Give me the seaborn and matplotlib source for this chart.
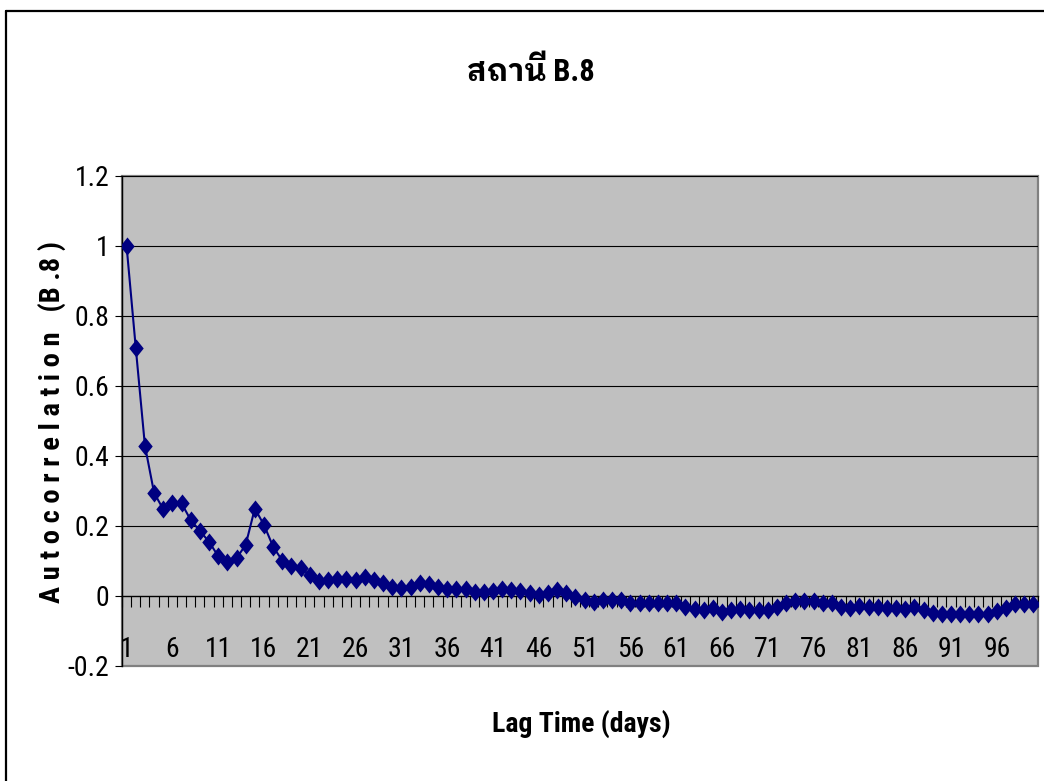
import numpy as np
import pandas as pd
import matplotlib
matplotlib.use("Agg")
import matplotlib.pyplot as plt
import seaborn as sns
from matplotlib import font_manager as fm
from matplotlib.ft2font import FT2Font
from matplotlib.patches import Rectangle
from matplotlib.lines import Line2D

# ---------------- data ----------------
title_text = "สถานี B.8"
xlabel_text = "Lag Time (days)"
ylabel_text = "A u t o c o r r e l a t i o n   (B .8 )"

lags = list(range(1, 101))
acf = [1.000, 0.710, 0.430, 0.295, 0.248, 0.265, 0.265, 0.217, 0.186, 0.155,
       0.114, 0.098, 0.108, 0.146, 0.250, 0.203, 0.141, 0.101, 0.086, 0.080,
       0.060, 0.044, 0.046, 0.050, 0.050, 0.046, 0.053, 0.046, 0.036, 0.025,
       0.022, 0.027, 0.038, 0.033, 0.026, 0.019, 0.019, 0.019, 0.012, 0.012,
       0.015, 0.019, 0.017, 0.015, 0.010, 0.002, 0.008, 0.018, 0.010, -0.002,
       -0.011, -0.016, -0.011, -0.011, -0.011, -0.021, -0.021, -0.021, -0.021, -0.021,
       -0.021, -0.030, -0.038, -0.040, -0.035, -0.045, -0.040, -0.038, -0.040, -0.040,
       -0.040, -0.032, -0.021, -0.013, -0.013, -0.013, -0.021, -0.021, -0.030, -0.035,
       -0.029, -0.030, -0.030, -0.035, -0.035, -0.038, -0.032, -0.040, -0.048, -0.050,
       -0.050, -0.050, -0.050, -0.050, -0.050, -0.042, -0.035, -0.022, -0.022, -0.022]
xtick_labels = [str(v) for v in range(1, 101, 5)]
ytick_values = [-0.2, 0, 0.2, 0.4, 0.6, 0.8, 1.0, 1.2]
ytick_labels = ["-0.2", "0", "0.2", "0.4", "0.6", "0.8", "1", "1.2"]

df = pd.DataFrame({"lag": lags, "acf": acf})

# ---------------- fonts ----------------
entries = fm.fontManager.ttflist
names = {f.name for f in entries}

def pick_narrow():
    for nm in ("Liberation Sans Narrow", "Arial Narrow", "Roboto Condensed",
               "Open Sans Condensed", "Noto Sans Condensed"):
        if nm in names:
            return nm, "normal"
    for f in entries:
        if f.name == "DejaVu Sans" and str(f.stretch) in ("condensed", "semi-condensed"):
            return "DejaVu Sans", "condensed"
    for f in entries:
        low = f.name.lower()
        if ("condensed" in low or "narrow" in low) and "mono" not in low:
            return f.name, "normal"
    return "Liberation Sans", "normal"

narrow, nstretch = pick_narrow()

def find_thai():
    cands = []
    for f in entries:
        try:
            cm = FT2Font(f.fname).get_charmap()
        except Exception:
            continue
        if 0x0E2A in cm and 0x0E35 in cm and 0x0E16 in cm:
            score = 0
            if "thai" in f.name.lower():
                score += 2
            w = f.weight
            if w == "bold" or (isinstance(w, int) and w >= 600):
                score += 1
            cands.append((score, f.name))
    if cands:
        cands.sort(reverse=True)
        return cands[0][1]
    return None

thai = find_thai()
base_family = [narrow, "Liberation Sans", "DejaVu Sans"]
title_family = [narrow] + ([thai] if thai else []) + ["DejaVu Sans"]

sns.set_theme(style="white")
plt.rcParams["font.family"] = base_family
plt.rcParams["font.stretch"] = nstretch
plt.rcParams["text.color"] = "black"
plt.rcParams["xtick.color"] = "black"
plt.rcParams["ytick.color"] = "black"
plt.rcParams["axes.labelcolor"] = "black"

# ---------------- figure ----------------
W, H = 1044, 781
fig = plt.figure(figsize=(W / 100, H / 100), dpi=100)
fig.patch.set_facecolor("white")

left, right, top, bottom = 122, 1038, 176, 666
ax = fig.add_axes([left / W, 1 - bottom / H, (right - left) / W, (bottom - top) / H])
ax.set_facecolor("#C0C0C0")

marker_verts = [(0, 1), (0.8, 0), (0, -1), (-0.8, 0), (0, 1)]
sns.lineplot(data=df, x="lag", y="acf", ax=ax, color="#000080", linewidth=1.5,
             marker=marker_verts, markersize=13, markerfacecolor="#000080",
             markeredgecolor="#000080", markeredgewidth=0, zorder=5)

ax.set_xlim(0.5, 100.5)
ax.set_ylim(-0.2, 1.2)

for yv in ytick_values:
    if yv not in (-0.2, 0):
        ax.axhline(yv, color="black", linewidth=0.8, zorder=1)

for s in ("top", "right"):
    ax.spines[s].set_visible(False)
ax.spines["left"].set_color("black")
ax.spines["left"].set_linewidth(1.0)
ax.spines["bottom"].set_position(("data", 0))
ax.spines["bottom"].set_color("black")
ax.spines["bottom"].set_linewidth(1.0)
ax.spines["bottom"].set_zorder(2)
ax.add_patch(Rectangle((0, 0), 1, 1, transform=ax.transAxes, fill=False,
                       edgecolor="#808080", linewidth=1.6, clip_on=False, zorder=0.5))

ax.set_yticks(ytick_values)
ax.set_yticklabels(ytick_labels)
ax.tick_params(axis="y", direction="out", length=5, width=0.8, color="black",
               pad=4, labelsize=20, left=True)

ax.set_xticks(np.arange(0.5, 101, 1.0), minor=True)
ax.set_xticks(list(range(1, 101, 5)))
ax.set_xticklabels(xtick_labels)
ax.tick_params(axis="x", which="minor", direction="out", length=8, width=0.8,
               color="black", bottom=True)
ax.tick_params(axis="x", which="major", length=0, pad=29, labelsize=20, bottom=True)
ax.set_xlabel("")
ax.set_ylabel("")
ax.grid(False)

fig.text(531 / W, 1 - 72 / H, title_text, ha="center", va="center",
         fontsize=22, fontweight="bold", family=title_family, stretch=nstretch)
fig.text(581 / W, 1 - 724 / H, xlabel_text, ha="center", va="center",
         fontsize=20, fontweight="bold", family=base_family, stretch=nstretch)
fig.text(52 / W, 1 - 422 / H, ylabel_text, ha="center", va="center",
         rotation=90, fontsize=20.5, fontweight="bold", family=base_family, stretch=nstretch)

fig.add_artist(Line2D([6 / W, 6 / W], [0, 1 - 11 / H], transform=fig.transFigure,
                      color="black", linewidth=1.6))
fig.add_artist(Line2D([6 / W, 1], [1 - 11 / H, 1 - 11 / H], transform=fig.transFigure,
                      color="black", linewidth=1.6))

fig.savefig("out.png", dpi=100)
